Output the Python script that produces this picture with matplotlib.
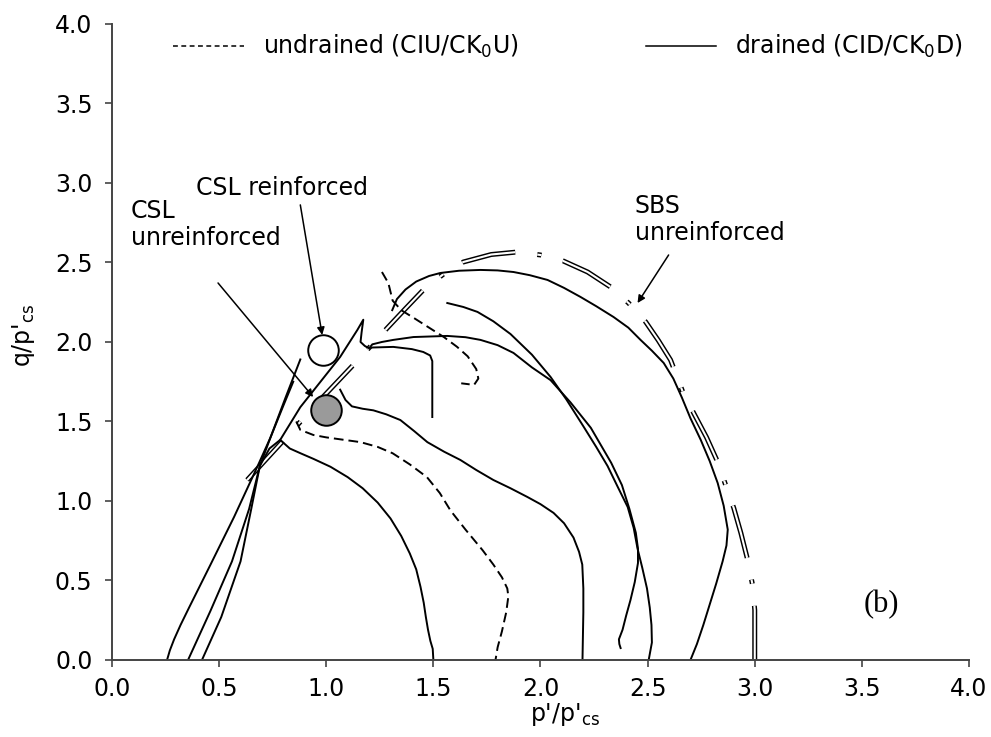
import matplotlib
matplotlib.use('Agg')
from matplotlib import pyplot as plt
from matplotlib.lines import Line2D

plt.rcParams['font.family'] = ['DejaVu Sans']
plt.rcParams['mathtext.fontset'] = 'dejavusans'
plt.rcParams['lines.scale_dashes'] = False

# drained paths rising from the q = 0 axis
path1_p = [0.257, 0.27, 0.29, 0.32, 0.36, 0.46, 0.57, 0.68, 0.74, 0.80, 0.846]
path1_q = [0.0, 0.06, 0.13, 0.22, 0.33, 0.60, 0.90, 1.22, 1.40, 1.60, 1.75]
path2_p = [0.355, 0.46, 0.56, 0.64, 0.69, 0.74, 0.81, 0.879]
path2_q = [0.0, 0.31, 0.62, 0.95, 1.22, 1.40, 1.65, 1.89]
# third drained path: up to the spike, then over to p' = 2.4
path3_p = [0.42, 0.51, 0.60, 0.65, 0.69, 0.735, 0.785, 0.879, 1.065, 1.145, 1.173, 1.165,
           1.16, 1.18, 1.20, 1.215, 1.26, 1.313, 1.407, 1.565, 1.65, 1.72, 1.80, 1.874,
           1.96, 2.047, 2.14, 2.235, 2.33, 2.38, 2.415, 2.445, 2.455, 2.455, 2.44, 2.42,
           2.40, 2.383, 2.366, 2.368, 2.374]
path3_q = [0.0, 0.27, 0.62, 0.95, 1.22, 1.33, 1.384, 1.59, 1.906, 2.075, 2.14, 2.06,
           2.0, 1.975, 1.96, 1.985, 2.0, 2.013, 2.031, 2.038, 2.03, 2.013, 1.98, 1.931,
           1.84, 1.76, 1.62, 1.46, 1.24, 1.10, 0.95, 0.80, 0.70, 0.61, 0.49, 0.377,
           0.28, 0.19, 0.13, 0.10, 0.075]
# branch from the spike ending in a vertical drop at p' = 1.5
branch_p = [1.21, 1.313, 1.40, 1.453, 1.485, 1.495, 1.495]
branch_q = [1.965, 1.969, 1.955, 1.937, 1.915, 1.88, 1.528]

# drained curves reaching q = 0 at larger p'
d15_p = [0.785, 0.83, 0.88, 0.94, 1.02, 1.10, 1.17, 1.24, 1.30, 1.35, 1.39, 1.42, 1.44,
         1.455, 1.465, 1.475, 1.486, 1.497, 1.50]
d15_q = [1.384, 1.33, 1.30, 1.265, 1.215, 1.15, 1.08, 0.99, 0.89, 0.78, 0.67, 0.57, 0.46,
         0.36, 0.27, 0.19, 0.12, 0.07, 0.0]
d22_p = [1.065, 1.09, 1.12, 1.17, 1.22, 1.28, 1.346, 1.41, 1.472, 1.55, 1.626, 1.70, 1.78,
         1.86, 1.939, 2.00, 2.061, 2.11, 2.154, 2.18, 2.195, 2.2, 2.2, 2.198, 2.196]
d22_q = [1.70, 1.635, 1.595, 1.58, 1.57, 1.545, 1.509, 1.44, 1.37, 1.31, 1.258, 1.195, 1.132,
         1.08, 1.025, 0.98, 0.925, 0.86, 0.77, 0.68, 0.60, 0.45, 0.30, 0.15, 0.0]
d25_p = [1.565, 1.64, 1.706, 1.78, 1.86, 1.96, 2.047, 2.12, 2.20, 2.26, 2.313, 2.36, 2.407,
         2.435, 2.453, 2.475, 2.497, 2.51, 2.518, 2.52, 2.505]
d25_q = [2.245, 2.22, 2.189, 2.13, 2.05, 1.92, 1.78, 1.64, 1.47, 1.34, 1.22, 1.09, 0.962,
         0.83, 0.70, 0.58, 0.45, 0.33, 0.22, 0.11, 0.0]
d27_p = [1.308, 1.33, 1.37, 1.42, 1.48, 1.533, 1.62, 1.72, 1.80, 1.874, 1.95, 2.033, 2.11,
         2.187, 2.26, 2.341, 2.41, 2.467, 2.52, 2.575, 2.62, 2.66, 2.70, 2.748, 2.79,
         2.827, 2.855, 2.874, 2.868, 2.85, 2.82, 2.79, 2.76, 2.73, 2.70]
d27_q = [2.20, 2.27, 2.33, 2.38, 2.415, 2.434, 2.448, 2.453, 2.45, 2.44, 2.42, 2.39, 2.34,
         2.283, 2.225, 2.157, 2.09, 2.013, 1.945, 1.868, 1.77, 1.65, 1.52, 1.384, 1.25,
         1.113, 0.97, 0.82, 0.72, 0.62, 0.48, 0.35, 0.22, 0.10, 0.0]

# undrained paths
u1_p = [0.86, 0.879, 0.94, 1.0, 1.08, 1.16, 1.24, 1.31, 1.39, 1.47, 1.53, 1.58, 1.65,
        1.73, 1.78, 1.82, 1.845, 1.85, 1.84, 1.82, 1.80, 1.79]
u1_q = [1.50, 1.447, 1.415, 1.40, 1.385, 1.37, 1.34, 1.30, 1.23, 1.15, 1.05, 0.94, 0.82,
        0.69, 0.60, 0.52, 0.45, 0.40, 0.30, 0.18, 0.08, 0.0]
u2_p = [1.26, 1.29, 1.31, 1.35, 1.41, 1.48, 1.55, 1.61, 1.66, 1.70, 1.71, 1.69, 1.63]
u2_q = [2.44, 2.37, 2.26, 2.20, 2.15, 2.09, 2.03, 1.97, 1.91, 1.83, 1.77, 1.73, 1.74]

# state boundary surface, unreinforced (from p' = 3 upwards)
sbs_p = [3.0, 3.0, 2.99, 2.967, 2.935, 2.902, 2.864, 2.827, 2.775, 2.715, 2.664, 2.607,
         2.55, 2.491, 2.411, 2.327, 2.22, 2.107, 2.0, 1.893, 1.77, 1.64, 1.55, 1.453,
         1.37, 1.285, 1.126, 0.958, 0.80, 0.631]
sbs_q = [0.0, 0.314, 0.47, 0.629, 0.80, 0.956, 1.101, 1.245, 1.40, 1.553, 1.686, 1.887,
         2.01, 2.126, 2.245, 2.346, 2.44, 2.509, 2.547, 2.566, 2.55, 2.503, 2.43, 2.327,
         2.21, 2.088, 1.855, 1.616, 1.38, 1.132]

# critical state points
csl_reinf = (0.986, 1.95)
csl_unreinf = (1.0, 1.572)

ticks = [0.0, 0.5, 1.0, 1.5, 2.0, 2.5, 3.0, 3.5, 4.0]

fig = plt.figure(figsize=(9.91, 7.37), dpi=100)
ax = fig.add_axes([0.113, 0.1045, 0.8648, 0.863])

# double-line dashed SBS: thick black dashes with a white core
sbs_dash = (39, 16, 3, 16)
ax.plot(sbs_p, sbs_q, color='black', lw=3.6, dashes=sbs_dash, zorder=1)
ax.plot(sbs_p, sbs_q, color='white', lw=1.5, dashes=sbs_dash, zorder=1.1)

lw = 1.4
for p, q in [(path1_p, path1_q), (path2_p, path2_q), (path3_p, path3_q),
             (branch_p, branch_q), (d15_p, d15_q), (d22_p, d22_q),
             (d25_p, d25_q), (d27_p, d27_q)]:
    ax.plot(p, q, color='black', lw=lw, zorder=2, solid_joinstyle='round')

for p, q in [(u1_p, u1_q), (u2_p, u2_q)]:
    ax.plot(p, q, color='black', lw=lw, dashes=(7, 3.6), zorder=2)

ax.plot(*csl_reinf, 'o', ms=22, mfc='white', mec='black', mew=1.4, zorder=3)
ax.plot(*csl_unreinf, 'o', ms=22, mfc='#9a9a9a', mec='black', mew=1.4, zorder=3)

# labels with arrows
fs = 17
arrow = dict(arrowstyle='-|>', color='black', lw=1.1, mutation_scale=11,
             shrinkA=0, shrinkB=0)
ax.text(0.393, 2.97, 'CSL reinforced', fontsize=fs, va='center', ha='left')
ax.annotate('', xy=(0.981, 2.044), xytext=(0.879, 2.862), arrowprops=arrow)
ax.text(0.089, 2.74, 'CSL\nunreinforced', fontsize=fs, va='center', ha='left',
        linespacing=1.15)
ax.annotate('', xy=(0.939, 1.654), xytext=(0.495, 2.371), arrowprops=arrow)
ax.text(2.44, 2.77, 'SBS\nunreinforced', fontsize=fs, va='center', ha='left',
        linespacing=1.15)
ax.annotate('', xy=(2.453, 2.245), xytext=(2.598, 2.547), arrowprops=arrow)
ax.text(3.59, 0.35, '(b)', fontsize=22, family='Liberation Serif', ha='center', va='center')

# legend
handles = [Line2D([], [], color='black', lw=1.1, dashes=(3.5, 2.5)),
           Line2D([], [], color='black', lw=1.1)]
labels = ['undrained (CIU/CK$_0$U)', 'drained (CID/CK$_0$D)']
ax.legend(handles, labels, ncol=2, frameon=False, fontsize=fs, loc='center left',
          bbox_to_anchor=(0.071, 0.964), borderpad=0, borderaxespad=0,
          handlelength=3.0, handletextpad=0.8, columnspacing=5.4)

ax.set_xlim(0, 4)
ax.set_ylim(0, 4)
ax.set_xticks(ticks)
ax.set_yticks(ticks)
ax.set_xticklabels(['%.1f' % t for t in ticks])
ax.set_yticklabels(['%.1f' % t for t in ticks])
ax.tick_params(direction='out', length=5, width=1.2, labelsize=fs, color='#444444')
ax.tick_params(axis='x', pad=7)
ax.tick_params(axis='y', pad=9)
for s in ['top', 'right']:
    ax.spines[s].set_visible(False)
for s in ['left', 'bottom']:
    ax.spines[s].set_linewidth(1.4)
    ax.spines[s].set_color('#444444')

ax.set_xlabel("p'/p'$_{\\mathrm{cs}}$", fontsize=fs)
ax.xaxis.set_label_coords(0.529, -0.065)
ax.set_ylabel("q/p'$_{\\mathrm{cs}}$", fontsize=fs)
ax.yaxis.set_label_coords(-0.087, 0.511)

fig.savefig('out.png', dpi=100)
